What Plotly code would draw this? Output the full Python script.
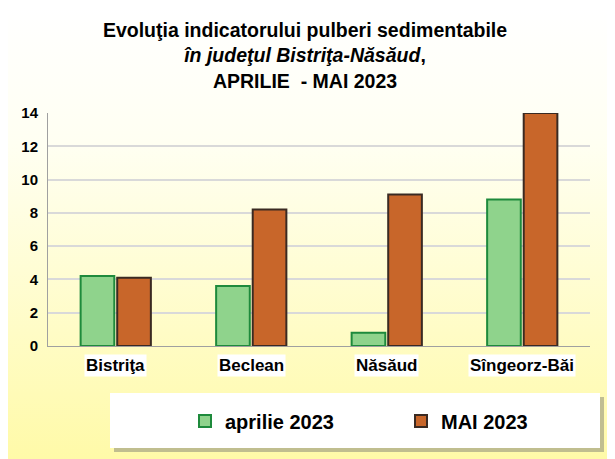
import plotly.graph_objects as go
import base64

categories = ["Bistriţa", "Beclean", "Năsăud", "Sîngeorz-Băi"]
aprilie_2023 = [4.2, 3.6, 0.8, 8.8]
mai_2023 = [4.1, 8.2, 9.1, 14.0]
series_names = ["aprilie 2023", "MAI 2023"]
y_ticks = [0, 2, 4, 6, 8, 10, 12, 14]

# page body has an 8px margin -> figure drawn 8px right/down
W, H = 607, 451
L, R, T, B = 40, 25, 105, 113
PW, PH = W - L - R, H - T - B


def px_x(x):
    return (x - L) / PW


def px_y(y):
    return (H - B - y) / PH


svg = f'''<svg xmlns="http://www.w3.org/2000/svg" width="{W}" height="{H}" preserveAspectRatio="none">
<defs><linearGradient id="g" x1="0" y1="0" x2="0" y2="1">
<stop offset="0" stop-color="#ffffff"/><stop offset="0.3" stop-color="#fffff2"/>
<stop offset="1" stop-color="#fffaa8"/></linearGradient></defs>
<rect x="0" y="0" width="{W}" height="{H}" fill="url(#g)"/>
</svg>'''
bg = "data:image/svg+xml;base64," + base64.b64encode(svg.encode()).decode()

fig = go.Figure()
fig.add_trace(go.Bar(
    x=categories, y=aprilie_2023, name="<b>" + series_names[0] + "</b>",
    marker=dict(color="#8fd38c", line=dict(color="#1e8a3c", width=2)),
))
fig.add_trace(go.Bar(
    x=categories, y=mai_2023, name="<b>" + series_names[1] + "</b>",
    marker=dict(color="#c8662a", line=dict(color="#3a2a22", width=2)),
))

annotations = [
    dict(x=c, xref="x", y=px_y(365 - 8), yref="paper", text="<b>" + c + "</b>",
         showarrow=False, bgcolor="#ffffff", borderpad=1, yanchor="middle",
         font=dict(size=17, family="Liberation Sans, Arial", color="#000000"))
    for c in categories
]

fig.update_layout(
    width=W, height=H,
    margin=dict(l=L, r=R, t=T, b=B, autoexpand=False),
    paper_bgcolor="rgba(0,0,0,0)",
    plot_bgcolor="#ffffff",
    barmode="group", bargap=0.46, bargroupgap=0.08,
    font=dict(family="Liberation Sans, Arial", color="#000000"),
    title=dict(
        text="<b>Evoluţia indicatorului pulberi sedimentabile<br><i>în judeţul Bistriţa-Năsăud</i>,<br>APRILIE  - MAI 2023</b>",
        x=(305 - 8) / W, xanchor="center", y=1 - 29 / H, yanchor="top",
        font=dict(size=19.5, family="Liberation Sans, Arial", color="#000000"),
    ),
    xaxis=dict(
        showgrid=False, showline=True, linecolor="#a0a0a0", linewidth=1,
        showticklabels=False, ticks="",
    ),
    yaxis=dict(
        range=[0, 14], tickvals=y_ticks, ticktext=["<b>" + str(v) + "</b>" for v in y_ticks],
        showgrid=True, gridcolor="#d9d9d9", gridwidth=1.5,
        showline=True, linecolor="#a0a0a0", linewidth=1, zeroline=False,
        tickfont=dict(size=15, family="Liberation Sans, Arial"), ticks="", ticklabelstandoff=6,
    ),
    legend=dict(
        orientation="h", x=px_x(177), xanchor="left", y=px_y(413), yanchor="middle",
        bgcolor="rgba(0,0,0,0)", font=dict(size=20, family="Liberation Sans, Arial"),
        itemwidth=30, entrywidth=171, entrywidthmode="pixels",
    ),
    annotations=annotations,
    images=[dict(source=bg, xref="paper", yref="paper", x=px_x(0), y=px_y(0),
                 sizex=W / PW, sizey=H / PH, xanchor="left", yanchor="top",
                 sizing="stretch", layer="below")],
    shapes=[
        dict(type="rect", xref="paper", yref="paper", layer="below",
             x0=px_x(106), x1=px_x(596), y0=px_y(444), y1=px_y(389),
             fillcolor="#8c8c78", line=dict(width=0), opacity=0.55),
        dict(type="rect", xref="paper", yref="paper", layer="below",
             x0=px_x(102), x1=px_x(592), y0=px_y(440), y1=px_y(385),
             fillcolor="#ffffff", line=dict(width=0)),
    ],
)

fig.write_html("out.html")
